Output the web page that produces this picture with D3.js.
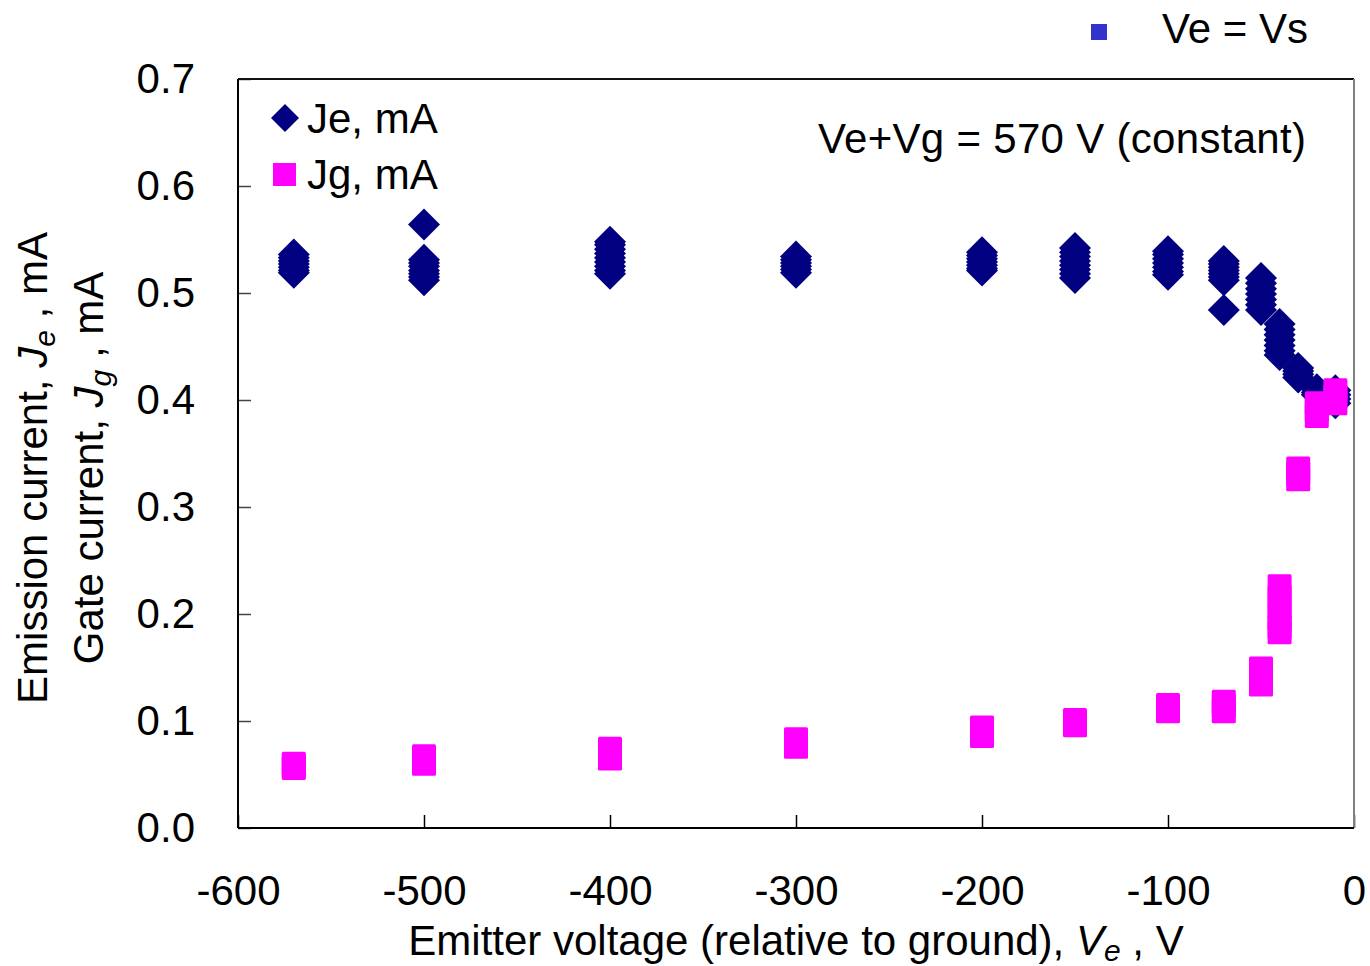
<!DOCTYPE html>
<html><head><meta charset="utf-8">
<script src="https://cdn.jsdelivr.net/npm/d3@7"></script>
<style>
html,body{margin:0;padding:0;background:#fff;}
svg{display:block;font-family:"Liberation Sans",Arial,sans-serif;}
</style>
</head><body>
<svg id="chart" width="1370" height="966"></svg>
<script>
// ---- data ----
const voltages = [-570, -500, -400, -300, -200, -150, -100, -70, -50, -40, -30, -20, -10];
const jeValues = [
  [0.536, 0.533, 0.530, 0.527, 0.524, 0.521, 0.519],
  [0.564, 0.531, 0.528, 0.525, 0.521, 0.518, 0.515, 0.512],
  [0.548, 0.545, 0.541, 0.537, 0.533, 0.529, 0.525, 0.521, 0.518],
  [0.534, 0.531, 0.528, 0.525, 0.522, 0.519],
  [0.538, 0.535, 0.532, 0.529, 0.526, 0.523, 0.521],
  [0.542, 0.538, 0.534, 0.530, 0.526, 0.522, 0.518, 0.514],
  [0.539, 0.536, 0.532, 0.528, 0.524, 0.520, 0.517],
  [0.530, 0.527, 0.524, 0.521, 0.518, 0.515, 0.512, 0.484],
  [0.514, 0.509, 0.504, 0.499, 0.494, 0.489, 0.484],
  [0.471, 0.466, 0.461, 0.456, 0.451, 0.446, 0.442],
  [0.430, 0.427, 0.424, 0.421],
  [0.410, 0.407, 0.405],
  [0.409, 0.405, 0.401, 0.397]
];
const jgValues = [
  [0.060, 0.058, 0.056],
  [0.067, 0.064, 0.060],
  [0.074, 0.070, 0.065],
  [0.083, 0.080, 0.076],
  [0.094, 0.090, 0.086],
  [0.101, 0.099, 0.096],
  [0.115, 0.112, 0.109],
  [0.118, 0.114, 0.109],
  [0.149, 0.144, 0.139, 0.134],
  [0.226, 0.216, 0.206, 0.196, 0.188, 0.183],
  [0.336, 0.331, 0.326],
  [0.397, 0.391, 0.385],
  [0.409, 0.403, 0.397]
];
const xTicks = [-600, -500, -400, -300, -200, -100, 0];
const yTicks = [0.0, 0.1, 0.2, 0.3, 0.4, 0.5, 0.6, 0.7];
const seriesNames = ["Je, mA", "Jg, mA"];
const extraLegend = "Ve = Vs";
const annotation = "Ve+Vg = 570 V (constant)";

// ---- layout ----
const svg = d3.select("#chart");
const L = 238, R = 1354, T = 79, B = 828;
const FS = 42;
const x = d3.scaleLinear().domain([-600, 0]).range([L, R]);
const y = d3.scaleLinear().domain([0, 0.7]).range([B, T]);
const navy = "#000080", magenta = "#FF00FF";

function diamond(cx, cy, h) {
  const p = d3.path();
  p.moveTo(cx, cy - h); p.lineTo(cx + h, cy); p.lineTo(cx, cy + h); p.lineTo(cx - h, cy); p.closePath();
  return p.toString();
}

// axes
const xAxis = d3.axisBottom(x).tickValues(xTicks).tickFormat(d => String(d))
  .tickSizeInner(-13).tickSizeOuter(0).tickPadding(47);
const gx = svg.append("g").attr("transform", `translate(0,${B})`).call(xAxis);
gx.select(".domain").remove();
gx.selectAll(".tick line").attr("stroke", "#000").attr("stroke-width", 1.5);
gx.selectAll(".tick text").attr("font-size", FS).attr("font-family", "Liberation Sans, Arial, sans-serif").attr("fill", "#000");

const yAxis = d3.axisLeft(y).tickValues(yTicks).tickFormat(d3.format(".1f"))
  .tickSizeInner(-13).tickSizeOuter(0).tickPadding(43);
const gy = svg.append("g").attr("transform", `translate(${L},0)`).call(yAxis);
gy.select(".domain").remove();
gy.selectAll(".tick line").attr("stroke", "#444").attr("stroke-width", 1.5);
gy.selectAll(".tick text").attr("font-size", FS).attr("font-family", "Liberation Sans, Arial, sans-serif").attr("fill", "#000");

// frame
svg.append("line").attr("x1", L).attr("x2", R).attr("y1", T).attr("y2", T).attr("stroke", "#111").attr("stroke-width", 2);
svg.append("line").attr("x1", R).attr("x2", R).attr("y1", T).attr("y2", B).attr("stroke", "#808080").attr("stroke-width", 2);
svg.append("line").attr("x1", L).attr("x2", R).attr("y1", B).attr("y2", B).attr("stroke", "#000").attr("stroke-width", 2);
svg.append("line").attr("x1", L).attr("x2", L).attr("y1", T).attr("y2", B).attr("stroke", "#000").attr("stroke-width", 2);

// data points
const jePts = [], jgPts = [];
voltages.forEach((v, i) => {
  jeValues[i].forEach(d => jePts.push({v, d}));
  jgValues[i].forEach(d => jgPts.push({v, d}));
});
svg.append("g").selectAll("path").data(jePts).join("path")
  .attr("d", p => diamond(x(p.v), y(p.d), 16)).attr("fill", navy);
const sq = 24;
svg.append("g").selectAll("rect").data(jgPts).join("rect")
  .attr("x", p => x(p.v) - sq / 2).attr("y", p => y(p.d) - sq / 2)
  .attr("width", sq).attr("height", sq).attr("rx", 1.5).attr("fill", magenta);

// legend
svg.append("path").attr("d", diamond(285, 118, 14)).attr("fill", navy);
svg.append("text").attr("x", 307).attr("y", 133).attr("font-size", FS).text(seriesNames[0]);
svg.append("rect").attr("x", 273).attr("y", 163).attr("width", 23).attr("height", 23).attr("fill", magenta);
svg.append("text").attr("x", 307).attr("y", 189).attr("font-size", FS).text(seriesNames[1]);

svg.append("rect").attr("x", 1091).attr("y", 24).attr("width", 16).attr("height", 16).attr("fill", "#3333CC");
svg.append("text").attr("x", 1162).attr("y", 43).attr("font-size", FS).text(extraLegend);

svg.append("text").attr("x", 1306).attr("y", 153).attr("text-anchor", "end").attr("font-size", FS)
  .attr("textLength", 488).attr("lengthAdjust", "spacing").text(annotation);

// x title
const xt = svg.append("text").attr("x", 796).attr("y", 955).attr("text-anchor", "middle").attr("font-size", FS);
xt.append("tspan").text("Emitter voltage (relative to ground), ");
xt.append("tspan").attr("font-style", "italic").text("V");
xt.append("tspan").attr("font-style", "italic").attr("font-size", 30).attr("dy", 6).text("e");
xt.append("tspan").attr("dy", -6).text("  , V");

// y titles
function yTitle(cx, main, sym, sub) {
  const t = svg.append("text").attr("transform", `translate(${cx},468) rotate(-90)`)
    .attr("text-anchor", "middle").attr("font-size", FS);
  t.append("tspan").text(main);
  t.append("tspan").attr("font-style", "italic").text(sym);
  t.append("tspan").attr("font-style", "italic").attr("font-size", 30).attr("dy", 8).text(sub);
  t.append("tspan").attr("dy", -8).text(" , mA");
}
yTitle(47, "Emission current, ", "J", "e");
yTitle(103, "Gate current, ", "J", "g");
</script>
</body></html>
